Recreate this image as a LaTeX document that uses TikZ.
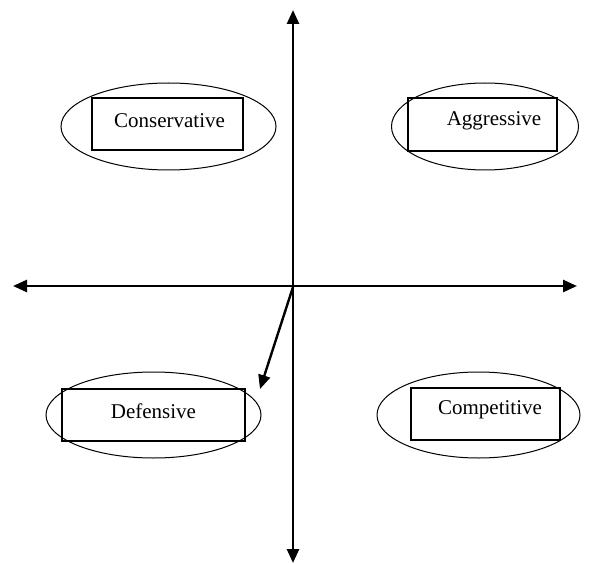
\documentclass[tikz,border=0pt]{standalone}
\usepackage{fontspec}
\setmainfont{Liberation Serif}
\usetikzlibrary{arrows.meta,shapes.geometric}
\begin{document}
\begin{tikzpicture}[x=1pt,y=-1pt,
  axis/.style={line width=2.6pt,{Triangle[length=14pt,width=12pt]}-{Triangle[length=14pt,width=12pt]}},
  diag/.style={line width=2.4pt,-{Triangle[length=14pt,width=12pt]}},
  oval/.style={draw,ellipse,line width=1pt,inner sep=0pt},
  box/.style={draw,rectangle,line width=1.3pt,inner sep=0pt},
  lbl/.style={inner sep=0pt,font=\fontsize{21}{25}\selectfont}]
\useasboundingbox (0,0) rectangle (591,564);
% axes
\coordinate (top) at (293,10);
\coordinate (bot) at (293,563);
\coordinate (lft) at (13,286);
\coordinate (rgt) at (577,286);
\coordinate (O) at (293,287);
\coordinate (d) at (260,389);
\draw[axis] (top) -- (bot);
\draw[axis] (lft) -- (rgt);
\draw[diag] (O) -- (d);
% Conservative
\node[oval,minimum width=215pt,minimum height=87pt] (e1) at (168.5,126.5) {};
\node[box,minimum width=151pt,minimum height=52pt] (r1) at (167.5,124) {};
\node[lbl] (t1) at (169.5,121) {Conservative};
% Aggressive
\node[oval,minimum width=187pt,minimum height=87pt] (e2) at (485,126.5) {};
\node[box,minimum width=149pt,minimum height=53pt] (r2) at (482.5,124.5) {};
\node[lbl] (t2) at (494,121) {Aggressive};
% Defensive
\node[oval,minimum width=215pt,minimum height=86pt] (e3) at (153.5,415) {};
\node[box,minimum width=183pt,minimum height=52pt] (r3) at (153.5,415) {};
\node[lbl] (t3) at (153.5,411) {Defensive};
% Competitive
\node[oval,minimum width=203pt,minimum height=86pt] (e4) at (478.5,415) {};
\node[box,minimum width=149pt,minimum height=52pt] (r4) at (485.5,414) {};
\node[lbl] (t4) at (490,410) {Competitive};
\end{tikzpicture}
\end{document}
